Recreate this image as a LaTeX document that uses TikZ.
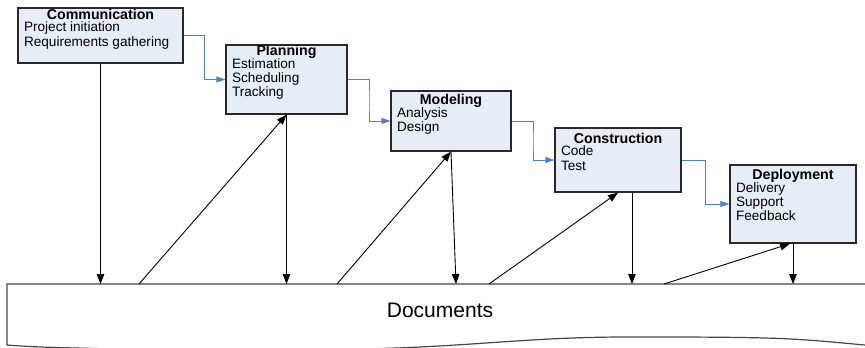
\documentclass[tikz,border=0pt]{standalone}
\usepackage{fontspec}
\setmainfont{Liberation Sans}
\usetikzlibrary{arrows.meta,calc}

\definecolor{stagefill}{RGB}{231,237,246}
\definecolor{stageedge}{RGB}{40,40,40}
\definecolor{flowblue}{RGB}{79,129,189}
\definecolor{docedge}{RGB}{70,70,70}

% Title and activity lines of one stage box:
% #1 box name, #2 reference baseline below top edge (pt), #3 title, #4 activities
\newcommand\stagetext[4]{%
  \node[stagetitle] (#1-title) at ([yshift={-#2pt-1.4pt}]#1.north) {#3};
  \foreach \txt [count=\k] in {#4}
    \node[stageline] (#1-line\k) at ([xshift=6.5pt,yshift={-#2pt-14.1pt*\k}]#1.north west) {\txt};
}

\begin{document}
\begin{tikzpicture}[x=1pt,y=-1pt,
  stage/.style={rectangle,draw=stageedge,fill=stagefill,line width=1.3pt,inner sep=0pt},
  stagetitle/.style={anchor=base,inner sep=0pt,font=\fontsize{14.2}{15}\selectfont\bfseries},
  stageline/.style={anchor=base west,inner sep=0pt,font=\fontsize{13.6}{14}\selectfont},
  link/.style={draw=flowblue,line width=1pt,-{Triangle[length=9pt,width=6pt]}},
  flow/.style={draw=black,line width=0.9pt,-{Triangle[length=10pt,width=7.5pt]}},
  docline/.style={draw=docedge,line width=1.2pt}]

\useasboundingbox (0,0) rectangle (865,348);
\clip (0,0) rectangle (865,348);

% stage boxes
\node[stage,minimum width=165pt,minimum height=55pt] (comm)   at (100.5,35.5) {};
\node[stage,minimum width=121pt,minimum height=69pt] (plan)   at (286.5,79.5) {};
\node[stage,minimum width=120pt,minimum height=60pt] (model)  at (451,121)    {};
\node[stage,minimum width=126pt,minimum height=64pt] (constr) at (618,160)    {};
\node[stage,minimum width=126pt,minimum height=78pt] (deploy) at (793,204)    {};

\stagetext{comm}{10.5}{Communication}{Project initiation,Requirements gathering}
\stagetext{plan}{10}{Planning}{Estimation,Scheduling,Tracking}
\stagetext{model}{13}{Modeling}{Analysis,Design}
\stagetext{constr}{14.5}{Construction}{Code,Test}
\stagetext{deploy}{14}{Deployment}{Delivery,Support,Feedback}

% hand-over between consecutive stages
\draw[link] (comm.east)   -| ($(comm.east)!0.5!(plan.west)$)     |- (plan.west);
\draw[link] (plan.east)   -| ($(plan.east)!0.5!(model.west)$)    |- (model.west);
\draw[link] (model.east)  -| ($(model.east)!0.5!(constr.west)$)  |- (constr.west);
\draw[link] (constr.east) -| ($(constr.east)!0.5!(deploy.west)$) |- (deploy.west);

% shared documents store
\coordinate (doctop) at (7,284);
\draw[docline] (880,284) -- (doctop) -- plot[smooth,tension=0.6] coordinates
  {(7,345) (60,347.6) (220,350.5) (397,348) (560,338.5) (660,337) (780,338.5) (865,345) (885,347)};
\node[inner sep=0pt,font=\fontsize{21}{21}\selectfont] (docs) at (440,310) {Documents};

% exchanges with the documents store
\coordinate (up1) at (139,284);
\coordinate (up2) at (337,284);
\coordinate (dn3) at (456,284);
\coordinate (up3) at (489,284);
\coordinate (up4) at (664,284);
\coordinate (cdrop) at ([xshift=14pt]constr.south);
\coordinate (dtip) at ([xshift=-3pt]deploy.south);

\draw[flow] (comm.south) -- (comm.south |- doctop);
\draw[flow] (up1) -- (plan.south);
\draw[flow] (plan.south) -- (plan.south |- doctop);
\draw[flow] (up2) -- (model.south);
\draw[flow] (model.south) -- (dn3);
\draw[flow] (up3) -- (constr.south);
\draw[flow] (cdrop) -- (cdrop |- doctop);
\draw[flow] (up4) -- (dtip);
\draw[flow] (deploy.south) -- (deploy.south |- doctop);

\end{tikzpicture}
\end{document}
